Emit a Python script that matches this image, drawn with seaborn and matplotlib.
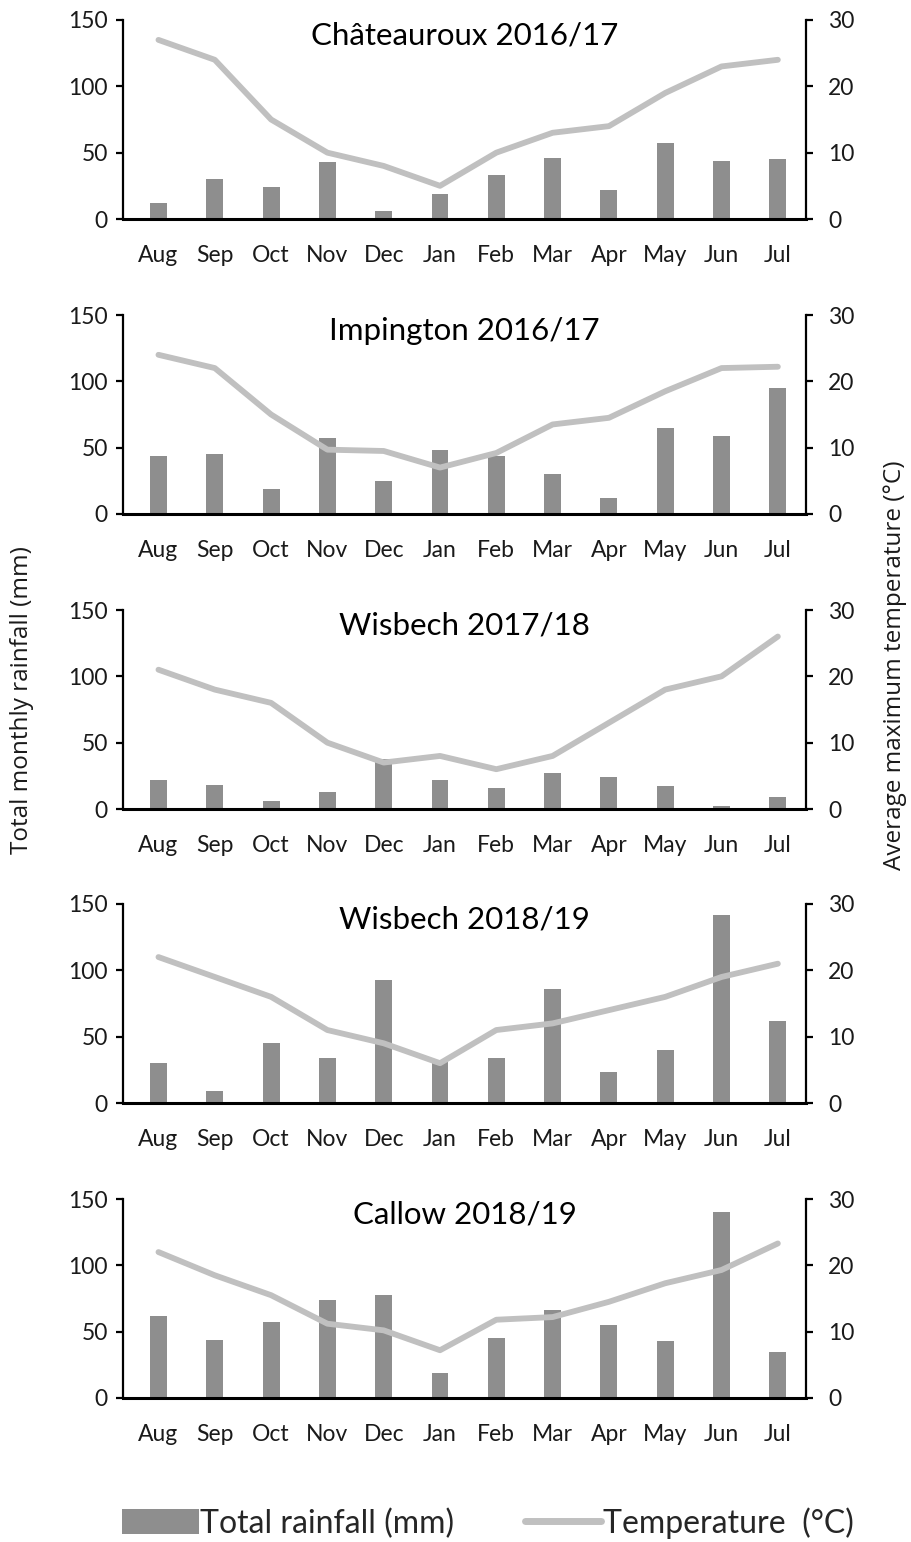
import numpy as np
import pandas as pd
import matplotlib
matplotlib.use("Agg")
import matplotlib.pyplot as plt
import seaborn as sns
from matplotlib.patches import Patch
from matplotlib.lines import Line2D

months = ["Aug", "Sep", "Oct", "Nov", "Dec", "Jan", "Feb", "Mar", "Apr", "May", "Jun", "Jul"]
titles = ["Châteauroux 2016/17", "Impington 2016/17", "Wisbech 2017/18", "Wisbech 2018/19", "Callow 2018/19"]

rain_chateauroux = [12, 30, 24, 43, 6, 19, 33, 46, 22, 57, 44, 45]
temp_chateauroux = [27, 24, 15, 10, 8, 5, 10, 13, 14, 19, 23, 24]

rain_impington = [44, 45, 19, 57, 25, 48, 44, 30, 12, 65, 59, 95]
temp_impington = [24, 22, 15, 9.7, 9.5, 7, 9.2, 13.5, 14.5, 18.5, 22, 22.2]

rain_wisbech1718 = [22, 18, 6, 13, 38, 22, 16, 27, 24, 17, 2, 9]
temp_wisbech1718 = [21, 18, 16, 10, 7, 8, 6, 8, 13, 18, 20, 26]

rain_wisbech1819 = [30, 9, 45, 34, 93, 31, 34, 86, 23, 40, 142, 62]
temp_wisbech1819 = [22, 19, 16, 11, 9, 6, 11, 12, 14, 16, 19, 21]

rain_callow = [62, 44, 57, 74, 78, 19, 45, 66, 55, 43, 140, 35]
temp_callow = [22, 18.5, 15.5, 11.2, 10.2, 7.2, 11.8, 12.2, 14.5, 17.3, 19.3, 23.3]

rain_series = [rain_chateauroux, rain_impington, rain_wisbech1718, rain_wisbech1819, rain_callow]
temp_series = [temp_chateauroux, temp_impington, temp_wisbech1718, temp_wisbech1819, temp_callow]

BAR = "#8e8e8e"
LINE = "#c0c0c0"
NARROW = ["Lato", "DejaVu Sans"]
WIDE = ["Open Sans", "DejaVu Sans"]

sns.set_theme(style="white")
plt.rcParams["font.family"] = NARROW

W, H = 912, 1542
fig = plt.figure(figsize=(W / 100, H / 100), dpi=100)

left_px, right_px = 123, 806
bottoms_px = [219, 514, 809, 1103, 1398]
height_px = 199

for title, rain, temp, bpx in zip(titles, rain_series, temp_series, bottoms_px):
    ax = fig.add_axes([left_px / W, 1 - bpx / H, (right_px - left_px) / W, height_px / H])
    df = pd.DataFrame({"month": months, "rain": rain, "temp": temp})
    sns.barplot(data=df, x="month", y="rain", ax=ax, color=BAR, width=0.3,
                saturation=1, linewidth=0)
    ax2 = ax.twinx()
    sns.lineplot(x=np.arange(len(months)), y=df["temp"], ax=ax2, color=LINE,
                 linewidth=4.2, solid_capstyle="round")
    ax.set_xlim(-0.63, 11.5)
    ax.set_ylim(0, 150)
    ax2.set_ylim(0, 30)
    ax.set_yticks([0, 50, 100, 150])
    ax2.set_yticks([0, 10, 20, 30])
    ax.set_xlabel("")
    ax.set_ylabel("")
    ax2.set_ylabel("")
    for a in (ax, ax2):
        a.spines["top"].set_visible(False)
        for s in ("left", "right", "bottom"):
            a.spines[s].set_color("black")
            a.spines[s].set_linewidth(1.6)
        a.set_facecolor("none")
    ax.spines["right"].set_visible(False)
    ax2.spines["left"].set_visible(False)
    ax2.spines["bottom"].set_visible(False)
    ax.spines["bottom"].set_linewidth(2.2)
    ax.tick_params(axis="x", length=0, pad=19, labelsize=16.5, labelcolor="#1a1a1a")
    ax.tick_params(axis="y", left=True, length=5, width=1.6, pad=6, labelsize=16.5,
                   color="black", labelcolor="#1a1a1a", direction="out")
    ax2.tick_params(axis="y", right=True, length=5, width=1.6, pad=11, labelsize=16.5,
                    color="black", labelcolor="#1a1a1a", direction="out")
    ax.text(0.5, 0.92, title, transform=ax.transAxes, ha="center", va="center",
            fontsize=22.5, color="black")
    ax.grid(False)
    ax2.grid(False)

fig.text(22 / W, 1 - 700 / H, "Total monthly rainfall (mm)", rotation=90,
         ha="center", va="center", fontsize=17.5, family=WIDE, color="#1a1a1a")
fig.text(895 / W, 1 - 665 / H, "Average maximum temperature (°C)", rotation=90,
         ha="center", va="center", fontsize=17.5, family=WIDE, color="#1a1a1a")

handles = [Patch(facecolor=BAR, edgecolor="none"),
           Line2D([0], [0], color=LINE, linewidth=5)]
fig.legend(handles, ["Total rainfall (mm)", "Temperature  (°C)"], loc="center",
           bbox_to_anchor=(0.535, 1 - 1523 / H), ncol=2, frameon=False,
           fontsize=23, handlelength=2.4, handleheight=0.8, handletextpad=0.05,
           columnspacing=2.2)

fig.savefig("out.png", dpi=100, facecolor="white")
